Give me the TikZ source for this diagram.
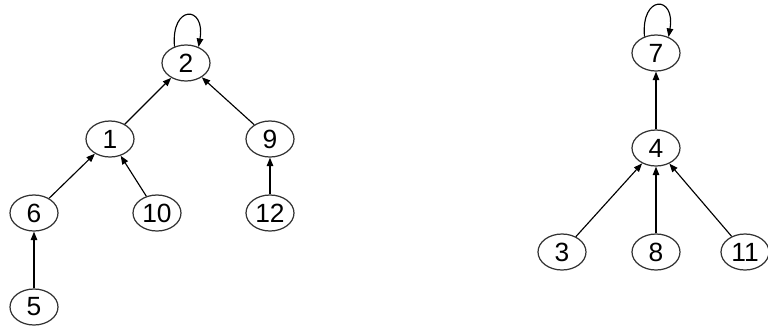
\documentclass[tikz,border=0pt]{standalone}
\usepackage{fontspec}
\setmainfont{Liberation Sans}
\usepackage{tikz}
\usetikzlibrary{shapes.geometric, arrows.meta}

\begin{document}
\begin{tikzpicture}[
  every node/.style={font=\fontsize{15}{17}\selectfont},
  vtx/.style={draw=black!80, ellipse, line width=0.7pt, inner sep=0pt,
              minimum width=0.96cm, minimum height=0.72cm},
  arr/.style={-{Triangle[length=1.7mm, width=1.3mm]}, line width=0.65pt},
  selfloop/.style={arr}
]
\useasboundingbox (0,0) rectangle (15.36,-6.58);

%% left tree
\node[vtx] (n2)  at (3.72,-1.26) {2};
\node[vtx] (n1)  at (2.20,-2.78) {1};
\node[vtx] (n9)  at (5.40,-2.78) {9};
\node[vtx] (n6)  at (0.68,-4.26) {6};
\node[vtx] (n10) at (3.14,-4.26) {10};
\node[vtx] (n12) at (5.40,-4.26) {12};
\node[vtx] (n5)  at (0.68,-6.14) {5};

%% right tree
\node[vtx] (n7)  at (13.12,-1.06) {7};
\node[vtx] (n4)  at (13.12,-2.96) {4};
\node[vtx] (n3)  at (11.24,-5.04) {3};
\node[vtx] (n8)  at (13.12,-5.04) {8};
\node[vtx] (n11) at (14.90,-5.04) {11};

% child -> parent
\foreach \a/\b in {n1/n2, n9/n2, n6/n1, n10/n1, n5/n6, n12/n9,
                   n4/n7, n3/n4, n8/n4, n11/n4}
  \draw[arr] (\a) -- (\b);

% roots point to themselves
\foreach \r in {n2, n7}
  \draw[selfloop] (\r.125) .. controls +(95:0.85) and +(80:0.85) .. (\r.52);

\end{tikzpicture}
\end{document}
